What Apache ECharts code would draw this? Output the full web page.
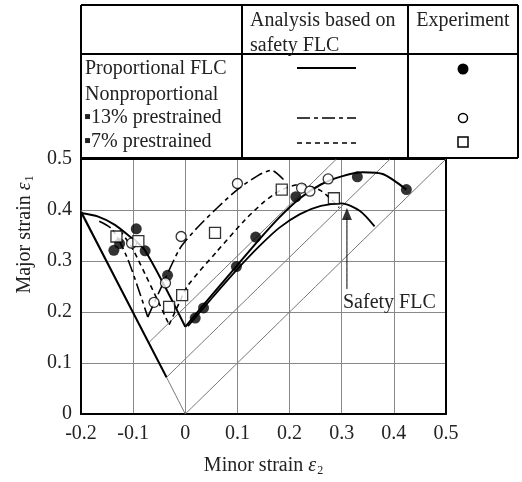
<!DOCTYPE html>
<html>
<head>
<meta charset="utf-8">
<script src="https://cdn.jsdelivr.net/npm/echarts@6/dist/echarts.min.js"></script>
<style>
  html, body { margin: 0; padding: 0; background: #fff; }
  #chart { width: 522px; height: 482px; }
</style>
</head>
<body>
<div id="chart"></div>
<script>
// tick labels
var xTicks = [-0.2, -0.1, 0, 0.1, 0.2, 0.3, 0.4, 0.5];
var yTicks = [0, 0.1, 0.2, 0.3, 0.4, 0.5];

// analysis curves (minor strain, major strain)
var propFlcLeft = [[-0.2, 0.394], [-0.167, 0.387], [-0.135, 0.371], [-0.11, 0.351], [-0.078, 0.322], [0, 0.171]];
var propFlcRight = [[0, 0.171], [0.05, 0.232], [0.1, 0.292], [0.14, 0.34], [0.18, 0.385], [0.22, 0.423],
  [0.26, 0.45], [0.3, 0.466], [0.34, 0.474], [0.38, 0.47], [0.424, 0.44]];
var safetyLeft = [[-0.2, 0.396], [-0.036, 0.072]];
var safetyRight = [[0.005, 0.172], [0.05, 0.226], [0.1, 0.284], [0.143, 0.33], [0.18, 0.365], [0.22, 0.392],
  [0.26, 0.408], [0.3, 0.413], [0.335, 0.398], [0.363, 0.368]];
var pre13Left = [[-0.165, 0.378], [-0.14, 0.362], [-0.11, 0.303], [-0.072, 0.19]];
var pre13Right = [[-0.072, 0.19], [-0.04, 0.262], [-0.01, 0.325], [0.02, 0.362], [0.06, 0.403], [0.1, 0.44],
  [0.14, 0.468], [0.165, 0.478], [0.19, 0.458]];
var pre7Left = [[-0.125, 0.36], [-0.1, 0.322], [-0.031, 0.175]];
var pre7Right = [[-0.031, 0.175], [-0.013, 0.215], [0.005, 0.252], [0.06, 0.318], [0.114, 0.38], [0.15, 0.415],
  [0.185, 0.44], [0.22, 0.45], [0.26, 0.438], [0.295, 0.405]];

// strain paths (thin grey lines)
var pathUniaxial = [[0, 0], [-0.2, 0.4]];
var pathEqui0 = [[0, 0], [0.5, 0.5]];
var pathEqui7 = [[-0.036, 0.072], [0.393, 0.5]];
var pathEqui13 = [[-0.07, 0.14], [0.29, 0.5]];

// experiments
var propExp = [[-0.137, 0.321], [-0.126, 0.334], [-0.094, 0.363], [-0.077, 0.32], [-0.034, 0.272],
  [0.019, 0.188], [0.035, 0.208], [0.098, 0.289], [0.135, 0.347], [0.212, 0.426], [0.33, 0.465], [0.424, 0.44]];
var pre13Exp = [[-0.103, 0.335], [-0.06, 0.219], [-0.038, 0.257], [-0.008, 0.348], [0.1, 0.452],
  [0.223, 0.443], [0.239, 0.437], [0.274, 0.461]];
var pre7Exp = [[-0.132, 0.348], [-0.09, 0.339], [-0.031, 0.21], [-0.006, 0.233], [0.057, 0.355],
  [0.185, 0.44], [0.285, 0.423]];

var safetyArrow = [[0.31, 0.245], [0.31, 0.385]];
var safetyMark = [[0.31, 0.392]];

var FONT = '"Liberation Serif", "Times New Roman", serif';
var chartDom = document.getElementById('chart');
var myChart = echarts.init(chartDom);

function lineSeries(data, width, color, dash, z) {
  return {
    type: 'line', data: data, showSymbol: false, symbol: 'none', smooth: 0.25,
    lineStyle: { color: color, width: width, type: dash || 'solid' },
    silent: true, z: z || 3, animation: false
  };
}

var pathStyle = '#777';
var dashDot = [13, 4, 4, 4];
var dashed = [5, 4];

var subRich = {
  e: { fontFamily: FONT, fontStyle: 'italic', fontSize: 20, color: '#222' },
  s: { fontFamily: FONT, fontSize: 12, color: '#222', padding: [10, 0, 0, 1] }
};

// table (legend) layout
var T = { x0: 81, x1: 242, x2: 408, x3: 518, y0: 5, y1: 54, y2: 158 };
var tableLines = [
  [T.x0, T.y0, T.x3, T.y0], [T.x0, T.y2, T.x3, T.y2], [T.x0, T.y0, T.x0, T.y2], [T.x3, T.y0, T.x3, T.y2],
  [T.x0, T.y1, T.x3, T.y1], [T.x1, T.y0, T.x1, T.y2], [T.x2, T.y0, T.x2, T.y2]
];
var graphics = tableLines.map(function (l) {
  return { type: 'line', shape: { x1: l[0], y1: l[1], x2: l[2], y2: l[3] }, style: { stroke: '#000', lineWidth: 2 }, z: 10 };
});
function txt(s, x, y, align) {
  return { type: 'text', x: x, y: y, style: { text: s, font: '20px ' + FONT, fill: '#222', textAlign: align || 'left', textVerticalAlign: 'middle' }, z: 10 };
}
graphics.push(
  txt('Analysis based on', 250, 21),
  txt('safety FLC', 250, 46),
  txt('Experiment', 463, 21, 'center'),
  txt('Proportional FLC', 85, 69),
  txt('Nonproportional', 85, 95),
  txt('\u25AA13% prestrained', 84, 118),
  txt('\u25AA7% prestrained', 84, 142),
  { type: 'line', shape: { x1: 297, y1: 68, x2: 356, y2: 68 }, style: { stroke: '#000', lineWidth: 2 }, z: 10 },
  { type: 'line', shape: { x1: 297, y1: 118, x2: 356, y2: 118 }, style: { stroke: '#000', lineWidth: 1.5, lineDash: dashDot }, z: 10 },
  { type: 'line', shape: { x1: 297, y1: 143, x2: 356, y2: 143 }, style: { stroke: '#000', lineWidth: 1.5, lineDash: dashed }, z: 10 },
  { type: 'circle', shape: { cx: 463, cy: 69, r: 5.5 }, style: { fill: '#000' }, z: 10 },
  { type: 'circle', shape: { cx: 463, cy: 118, r: 4.5 }, style: { fill: '#fff', stroke: '#000', lineWidth: 1.5 }, z: 10 },
  { type: 'rect', shape: { x: 458, y: 137, width: 10, height: 10 }, style: { fill: '#fff', stroke: '#000', lineWidth: 1.5 }, z: 10 },
  txt('Safety FLC', 343, 303)
);

function labelFmt(v) { return String(Math.round(v * 10) / 10); }

// secondary axes only draw the top / right frame
var frameAxis = {
  type: 'value', interval: 0.1,
  axisLine: { show: true, onZero: false, lineStyle: { color: '#000', width: 2 } },
  axisTick: { show: false }, axisLabel: { show: false }, splitLine: { show: false }
};

var option = {
  animation: false,
  backgroundColor: '#fff',
  grid: { left: 81, top: 159, width: 365, height: 256 },
  xAxis: [{
    type: 'value', min: xTicks[0], max: xTicks[xTicks.length - 1], interval: 0.1,
    axisLine: { onZero: false, lineStyle: { color: '#000', width: 2 } },
    axisTick: { show: false },
    splitLine: { show: true, lineStyle: { color: '#888', width: 1 } },
    axisLabel: { fontFamily: FONT, fontSize: 20, color: '#222', margin: 10, formatter: labelFmt },
    name: 'Minor strain {e|\u03B5}{s|2}', nameLocation: 'middle', nameGap: 41,
    nameTextStyle: { fontFamily: FONT, fontSize: 20, color: '#222', rich: subRich }
  }, Object.assign({ position: 'top', min: xTicks[0], max: xTicks[xTicks.length - 1] }, frameAxis)],
  yAxis: [{
    type: 'value', min: yTicks[0], max: yTicks[yTicks.length - 1], interval: 0.1,
    axisLine: { onZero: false, lineStyle: { color: '#000', width: 2 } },
    axisTick: { show: false },
    splitLine: { show: true, lineStyle: { color: '#888', width: 1 } },
    axisLabel: { fontFamily: FONT, fontSize: 20, color: '#222', margin: 9, formatter: labelFmt },
    name: 'Major strain {e|\u03B5}{s|1}', nameLocation: 'middle', nameGap: 43, nameRotate: 90,
    nameTextStyle: { fontFamily: FONT, fontSize: 20, color: '#222', rich: subRich, padding: [0, 0, 0, 104] }
  }, Object.assign({ position: 'right', min: yTicks[0], max: yTicks[yTicks.length - 1] }, frameAxis)],
  graphic: graphics,
  series: [
    lineSeries(pathUniaxial, 1, pathStyle, 'solid', 2),
    lineSeries(pathEqui0, 1, pathStyle, 'solid', 2),
    lineSeries(pathEqui7, 1, pathStyle, 'solid', 2),
    lineSeries(pathEqui13, 1, pathStyle, 'solid', 2),
    lineSeries(safetyLeft, 2, '#000'),
    lineSeries(safetyRight, 1.8, '#000'),
    lineSeries(propFlcLeft, 2, '#000'),
    lineSeries(propFlcRight, 2, '#000'),
    lineSeries(pre13Left, 1.6, '#000', dashDot),
    lineSeries(pre13Right, 1.6, '#000', dashDot),
    lineSeries(pre7Left, 1.6, '#000', dashed),
    lineSeries(pre7Right, 1.6, '#000', dashed),
    lineSeries(safetyArrow, 1, '#000'),
    { type: 'scatter', data: safetyMark, symbol: 'triangle', symbolSize: [10, 12], itemStyle: { color: '#000' }, z: 6, silent: true },
    { type: 'scatter', data: propExp, symbol: 'circle', symbolSize: 11, itemStyle: { color: '#000' }, z: 5, silent: true },
    { type: 'scatter', data: pre13Exp, symbol: 'circle', symbolSize: 10, itemStyle: { color: '#fff', borderColor: '#000', borderWidth: 1.3 }, z: 5, silent: true },
    { type: 'scatter', data: pre7Exp, symbol: 'rect', symbolSize: 11, itemStyle: { color: '#fff', borderColor: '#000', borderWidth: 1.3 }, z: 5, silent: true }
  ]
};
option && myChart.setOption(option);
</script>
</body>
</html>
